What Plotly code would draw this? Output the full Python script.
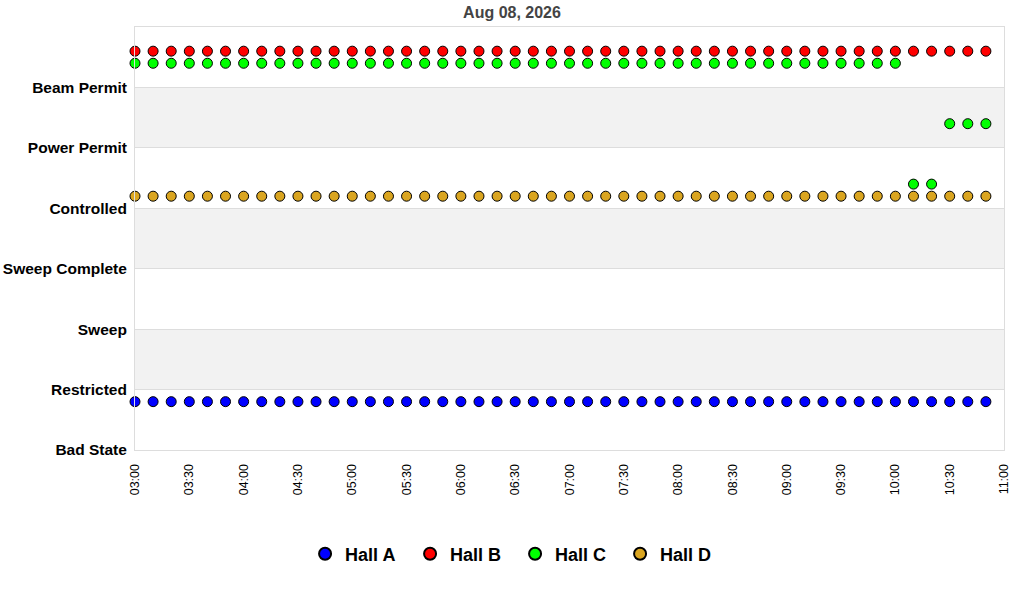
import pandas as pd
import plotly.graph_objects as go

# ---- data ----
times = pd.date_range("2026-08-08 03:00", periods=48, freq="10min")
state_labels = ["Bad State", "Restricted", "Sweep", "Sweep Complete",
                "Controlled", "Power Permit", "Beam Permit"]
state_vals = [0, 1, 2, 3, 4, 5, 6]

hall_a = [0.8, 0.8, 0.8, 0.8, 0.8, 0.8, 0.8, 0.8, 0.8, 0.8, 0.8, 0.8,
          0.8, 0.8, 0.8, 0.8, 0.8, 0.8, 0.8, 0.8, 0.8, 0.8, 0.8, 0.8,
          0.8, 0.8, 0.8, 0.8, 0.8, 0.8, 0.8, 0.8, 0.8, 0.8, 0.8, 0.8,
          0.8, 0.8, 0.8, 0.8, 0.8, 0.8, 0.8, 0.8, 0.8, 0.8, 0.8, 0.8]
hall_b = [6.6, 6.6, 6.6, 6.6, 6.6, 6.6, 6.6, 6.6, 6.6, 6.6, 6.6, 6.6,
          6.6, 6.6, 6.6, 6.6, 6.6, 6.6, 6.6, 6.6, 6.6, 6.6, 6.6, 6.6,
          6.6, 6.6, 6.6, 6.6, 6.6, 6.6, 6.6, 6.6, 6.6, 6.6, 6.6, 6.6,
          6.6, 6.6, 6.6, 6.6, 6.6, 6.6, 6.6, 6.6, 6.6, 6.6, 6.6, 6.6]
hall_c = [6.4, 6.4, 6.4, 6.4, 6.4, 6.4, 6.4, 6.4, 6.4, 6.4, 6.4, 6.4,
          6.4, 6.4, 6.4, 6.4, 6.4, 6.4, 6.4, 6.4, 6.4, 6.4, 6.4, 6.4,
          6.4, 6.4, 6.4, 6.4, 6.4, 6.4, 6.4, 6.4, 6.4, 6.4, 6.4, 6.4,
          6.4, 6.4, 6.4, 6.4, 6.4, 6.4, 6.4, 4.4, 4.4, 5.4, 5.4, 5.4]
hall_d = [4.2, 4.2, 4.2, 4.2, 4.2, 4.2, 4.2, 4.2, 4.2, 4.2, 4.2, 4.2,
          4.2, 4.2, 4.2, 4.2, 4.2, 4.2, 4.2, 4.2, 4.2, 4.2, 4.2, 4.2,
          4.2, 4.2, 4.2, 4.2, 4.2, 4.2, 4.2, 4.2, 4.2, 4.2, 4.2, 4.2,
          4.2, 4.2, 4.2, 4.2, 4.2, 4.2, 4.2, 4.2, 4.2, 4.2, 4.2, 4.2]

series = [("Hall A", hall_a, "#0000ff"),
          ("Hall B", hall_b, "#ff0000"),
          ("Hall C", hall_c, "#00ff00"),
          ("Hall D", hall_d, "#daa520")]

shaded_bands = [(1, 2), (3, 4), (5, 6)]

FONT = "Liberation Sans, Arial, sans-serif"

fig = go.Figure()
for name, vals, color in series:
    fig.add_trace(go.Scatter(
        x=times, y=vals, name=name, mode="markers",
        marker=dict(symbol="circle", size=10, color=color,
                    line=dict(color="black", width=1)),
        cliponaxis=False,
    ))

for lo, hi in shaded_bands:
    fig.add_shape(type="rect", xref="paper", yref="y", x0=0, x1=1,
                  y0=lo, y1=hi, fillcolor="#f2f2f2", line_width=0,
                  layer="below")

fig.update_layout(
    width=1024, height=600,
    margin=dict(l=135, r=20, t=27, b=150),
    paper_bgcolor="white", plot_bgcolor="white",
    font=dict(family=FONT, color="black"),
    title=dict(text="Aug 08, 2026", x=0.5, xref="container",
               xanchor="center", y=0.98, yanchor="middle",
               font=dict(size=16, color="#444444", family=FONT,
                         weight="bold")),
    showlegend=True,
    legend=dict(orientation="h", xref="container", yref="container",
                x=0.503, xanchor="center", y=0.0767, yanchor="middle",
                font=dict(size=18, family=FONT, color="black",
                          weight="bold"),
                itemsizing="constant", itemwidth=30,
                entrywidth=60, entrywidthmode="pixels"),
    xaxis=dict(
        type="date",
        range=["2026-08-08 03:00", "2026-08-08 11:00"],
        dtick=30 * 60 * 1000, tickformat="%H:%M", tickangle=-90,
        tickfont=dict(size=12.5, family=FONT, color="black"),
        showgrid=False, zeroline=False, automargin=False,
        showline=True, linecolor="#dddddd", linewidth=1, mirror=True,
        ticks="", ticklabelstandoff=8,
    ),
    yaxis=dict(
        range=[0, 7],
        tickvals=state_vals, ticktext=state_labels,
        tickfont=dict(size=15.5, family=FONT, color="black",
                      weight="bold"),
        showgrid=True, gridcolor="#dddddd", gridwidth=1,
        zeroline=False, automargin=False,
        showline=True, linecolor="#dddddd", linewidth=1, mirror=True,
        ticks="", ticklabelstandoff=4,
    ),
)

fig.write_html("out.html",
               config={"displayModeBar": False},
               post_script="document.body.style.margin='0';")
